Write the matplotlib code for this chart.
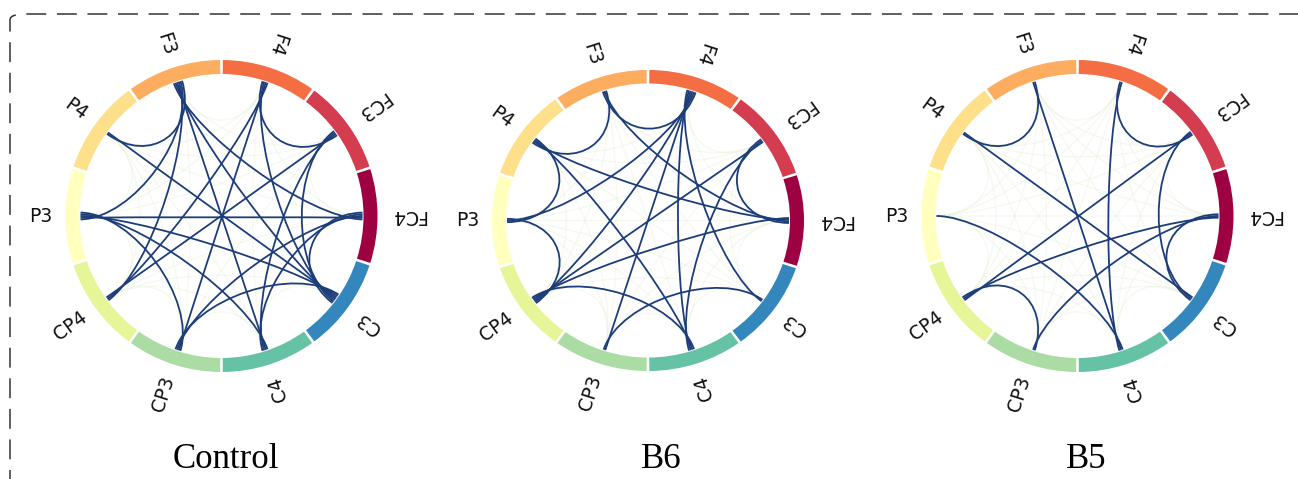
import numpy as np
import matplotlib
matplotlib.use("Agg")
import matplotlib.pyplot as plt
from matplotlib.patches import Wedge, FancyBboxPatch
from matplotlib.path import Path
from matplotlib.patches import PathPatch

# Channels in the order they sit around the circle (counter-clockwise from 0 deg)
channels = ['FC4', 'FC3', 'F4', 'F3', 'P4', 'P3', 'CP4', 'CP3', 'C4', 'C3']

conditions = ['Control', 'B6', 'B5']

# Strong connections for each group
control_edges = [
    ('F3', 'P4'), ('F3', 'P3'), ('F3', 'CP4'), ('F3', 'C3'), ('F3', 'C4'), ('F3', 'FC4'),
    ('F4', 'FC3'), ('F4', 'CP4'), ('F4', 'C3'), ('F4', 'CP3'),
    ('FC3', 'CP4'), ('FC3', 'C3'), ('FC3', 'C4'),
    ('FC4', 'P3'), ('FC4', 'C3'), ('FC4', 'CP3'), ('FC4', 'C4'),
    ('P4', 'C3'), ('P3', 'C3'), ('P3', 'CP3'), ('P3', 'C4'),
    ('CP3', 'C3'),
]
b6_edges = [
    ('F3', 'P4'), ('F3', 'F4'), ('F3', 'FC4'),
    ('P3', 'P4'), ('P3', 'CP4'), ('P3', 'F4'),
    ('FC3', 'FC4'), ('FC3', 'C4'), ('FC3', 'CP4'),
    ('P4', 'FC4'), ('P4', 'C4'),
    ('FC4', 'CP4'),
    ('F4', 'C3'), ('F4', 'CP4'), ('F4', 'CP3'), ('F4', 'C4'),
    ('CP3', 'C3'), ('CP4', 'C4'),
]
b5_edges = [
    ('F3', 'P4'), ('F3', 'C4'),
    ('F4', 'FC3'), ('F4', 'C4'),
    ('FC3', 'CP4'), ('FC3', 'C3'),
    ('FC4', 'C3'), ('FC4', 'CP4'), ('FC4', 'CP3'),
    ('P4', 'C3'), ('P3', 'C4'), ('CP3', 'CP4'),
]
all_edges = [control_edges, b6_edges, b5_edges]

W, H = 1298, 479
centers = [(221.5, 216), (648, 220.5), (1077.5, 216)]
y_scale = [1.0, 0.965, 1.0]
title_x = [226, 661, 1086]

r_line = 141
r_ctrl = 0.62 * r_line
r_in, r_out = 142, 156
n = len(channels)
angles = np.arange(n) * 360.0 / n
colors = plt.cm.Spectral(np.arange(n) / n)
idx = {c: i for i, c in enumerate(channels)}

strong_color = '#1d3d7a'
weak_color = '#dfeccb'


def bezier(a0, a1):
    t0, t1 = np.deg2rad(a0), np.deg2rad(a1)
    verts = [(r_line * np.cos(t0), r_line * np.sin(t0)),
             (r_ctrl * np.cos(t0), r_ctrl * np.sin(t0)),
             (r_ctrl * np.cos(t1), r_ctrl * np.sin(t1)),
             (r_line * np.cos(t1), r_line * np.sin(t1))]
    return Path(verts, [Path.MOVETO, Path.CURVE4, Path.CURVE4, Path.CURVE4])


def spread_offsets(edges):
    # spread the line ends a little inside each node
    ends = {c: [] for c in channels}
    for k, (a, b) in enumerate(edges):
        ends[a].append((k, 0, angles[idx[b]]))
        ends[b].append((k, 1, angles[idx[a]]))
    off = {}
    for c, lst in ends.items():
        base = angles[idx[c]]
        lst.sort(key=lambda e: (e[2] - base) % 360)
        m = len(lst)
        for j, (k, side, _) in enumerate(lst):
            off[(k, side)] = (j - (m - 1) / 2) * 0.7
    return off


fig = plt.figure(figsize=(W / 100, H / 100), dpi=100)
half = 200
for cond, edges, (cx, cy), sy, tx in zip(conditions, all_edges, centers, y_scale, title_x):
    ax = fig.add_axes([(cx - half) / W, 1 - (cy + half * sy) / H,
                       2 * half / W, 2 * half * sy / H])
    ax.set_xlim(-half, half)
    ax.set_ylim(-half, half)
    ax.set_aspect('auto')
    ax.axis('off')

    strong = {frozenset(e) for e in edges}
    # faint lines for every remaining pair
    for i in range(n):
        for j in range(i + 1, n):
            if frozenset((channels[i], channels[j])) in strong:
                continue
            ax.add_patch(PathPatch(bezier(angles[i], angles[j]), fc='none',
                                   ec=weak_color, lw=0.9, alpha=0.3, zorder=1))
    off = spread_offsets(edges)
    for k, (a, b) in enumerate(edges):
        p = bezier(angles[idx[a]] + off[(k, 0)], angles[idx[b]] + off[(k, 1)])
        ax.add_patch(PathPatch(p, fc='none', ec=strong_color, lw=1.3, zorder=2))

    for i, c in enumerate(channels):
        ax.add_patch(Wedge((0, 0), r_out, angles[i] - 17.5, angles[i] + 17.5,
                           width=r_out - r_in, fc=colors[i], ec='none', zorder=3))
        t = np.deg2rad(angles[i])
        ax.text(169 * np.cos(t), 169 * np.sin(t), c, rotation=angles[i] + 180,
                rotation_mode='anchor', ha='right', va='center',
                fontsize=13.5, family='DejaVu Sans', color='#111111')

    fig.text(tx / W, 1 - 460 / H, cond, ha='center', va='center',
             fontsize=25, family='Liberation Serif')

# dashed frame around the panel
frame = FancyBboxPatch((10 / W, -0.2), 1.2, 1 - 14 / H + 0.2,
                       boxstyle='round,pad=0,rounding_size=0.012',
                       transform=fig.transFigure, fc='none', ec='#333333',
                       lw=1.1, linestyle=(0, (13, 7)))
fig.patches.append(frame)

fig.savefig('out.png', dpi=100)
